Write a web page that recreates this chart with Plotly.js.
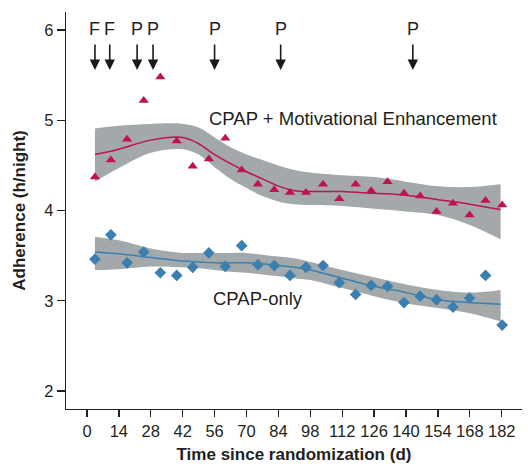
<!DOCTYPE html>
<html>
<head>
<meta charset="utf-8">
<script src="https://cdn.plot.ly/plotly-3.0.1.min.js"></script>
<style>html,body{margin:0;padding:0;background:#fff;}#chart{width:528px;height:468px;}</style>
</head>
<body>
<div id="chart"></div>
<script>
// Observed weekly adherence (days since randomization)
const weekDays = [3.5, 10.5, 17.6, 24.9, 32.2, 39.4, 46.4, 53.5, 60.7, 67.9, 75.0, 82.2, 89.1, 96.1, 103.6, 110.7, 117.9, 124.7, 131.9, 139.1, 146.2, 153.4, 160.6, 167.9, 174.9, 182.2];
const meObserved = [4.37, 4.56, 4.79, 5.22, 5.48, 4.77, 4.49, 4.57, 4.80, 4.45, 4.29, 4.23, 4.20, 4.20, 4.29, 4.13, 4.29, 4.22, 4.32, 4.19, 4.16, 3.99, 4.08, 3.95, 4.11, 4.06];
const onlyObserved = [3.46, 3.73, 3.42, 3.54, 3.31, 3.28, 3.37, 3.53, 3.38, 3.61, 3.40, 3.39, 3.28, 3.37, 3.39, 3.20, 3.07, 3.17, 3.16, 2.98, 3.05, 3.01, 2.93, 3.03, 3.28, 2.73];

// Smoothed fits with confidence bands
const fitDays   = [3.5, 14, 28, 42, 49, 56, 63, 70, 77, 84, 91, 98, 112, 126, 140, 154, 168, 181.5];
const meFit     = [4.62, 4.68, 4.78, 4.81, 4.74, 4.62, 4.52, 4.43, 4.35, 4.27, 4.22, 4.21, 4.21, 4.19, 4.17, 4.12, 4.07, 4.01];
const meUpper   = [4.91, 4.94, 4.96, 4.96, 4.92, 4.81, 4.70, 4.62, 4.56, 4.50, 4.45, 4.42, 4.39, 4.37, 4.32, 4.27, 4.26, 4.29];
const meLower   = [4.32, 4.47, 4.64, 4.68, 4.62, 4.48, 4.35, 4.25, 4.16, 4.10, 4.07, 4.06, 4.05, 4.02, 3.99, 3.95, 3.84, 3.68];
const onlyFit   = [3.54, 3.52, 3.48, 3.44, 3.43, 3.42, 3.42, 3.42, 3.41, 3.39, 3.37, 3.34, 3.25, 3.16, 3.09, 3.01, 2.98, 2.96];
const onlyUpper = [3.71, 3.67, 3.58, 3.53, 3.53, 3.53, 3.53, 3.53, 3.51, 3.49, 3.47, 3.43, 3.34, 3.26, 3.18, 3.12, 3.09, 3.12];
const onlyLower = [3.34, 3.35, 3.38, 3.37, 3.36, 3.34, 3.32, 3.31, 3.29, 3.27, 3.25, 3.23, 3.14, 3.05, 2.97, 2.92, 2.86, 2.77];

// Event markers
const eventDays = [3.5, 10, 22, 29, 56, 85, 143];
const eventLabels = ['F', 'F', 'P', 'P', 'P', 'P', 'P'];

const xTicks = [0, 14, 28, 42, 56, 70, 84, 98, 112, 126, 140, 154, 168, 182];
const yTicks = [2, 3, 4, 5, 6];

const MAG = '#c0124f';
const BLU = '#3a7fb0';
const BAND = '#a3a8aa';
const FONT = 'Liberation Sans, Arial, sans-serif';

const traces = [
  {x: fitDays, y: meLower, mode: 'lines', line: {width: 0, shape: 'spline', color: BAND}, hoverinfo: 'skip', showlegend: false},
  {x: fitDays, y: meUpper, mode: 'lines', line: {width: 0, shape: 'spline', color: BAND}, fill: 'tonexty', fillcolor: BAND, hoverinfo: 'skip', showlegend: false},
  {x: fitDays, y: onlyLower, mode: 'lines', line: {width: 0, shape: 'spline', color: BAND}, hoverinfo: 'skip', showlegend: false},
  {x: fitDays, y: onlyUpper, mode: 'lines', line: {width: 0, shape: 'spline', color: BAND}, fill: 'tonexty', fillcolor: BAND, hoverinfo: 'skip', showlegend: false},
  {x: fitDays, y: meFit, mode: 'lines', line: {width: 1.5, shape: 'spline', color: MAG}, showlegend: false},
  {x: fitDays, y: onlyFit, mode: 'lines', line: {width: 1.5, shape: 'spline', color: BLU}, showlegend: false},
  {x: weekDays, y: meObserved, mode: 'markers', marker: {symbol: 'triangle-up', size: 9, color: MAG}, showlegend: false},
  {x: weekDays, y: onlyObserved, mode: 'markers', marker: {symbol: 'diamond', size: 9, color: BLU}, showlegend: false}
];

const annotations = [];
eventDays.forEach((d, i) => {
  annotations.push({x: d, y: 5.557, xref: 'x', yref: 'y', text: '', showarrow: true,
    ax: 0, ay: -27, arrowhead: 2, arrowsize: 1.3, arrowwidth: 1.6, arrowcolor: '#1a1a1a'});
  annotations.push({x: d, y: 6.01, xref: 'x', yref: 'y', text: eventLabels[i], showarrow: false,
    font: {family: FONT, size: 18, color: '#231f20'}, xanchor: 'center', yanchor: 'middle'});
});
annotations.push({x: 52.5, y: 5.02, xref: 'x', yref: 'y', text: 'CPAP + Motivational Enhancement', showarrow: false,
  xanchor: 'left', yanchor: 'middle', font: {family: FONT, size: 18.5, color: '#231f20'}});
annotations.push({x: 54.5, y: 3.03, xref: 'x', yref: 'y', text: 'CPAP-only', showarrow: false,
  xanchor: 'left', yanchor: 'middle', font: {family: FONT, size: 18.5, color: '#231f20'}});

const layout = {
  width: 528, height: 468,
  margin: {l: 66, r: 6, t: 12, b: 59},
  paper_bgcolor: '#fff', plot_bgcolor: '#fff',
  showlegend: false,
  font: {family: FONT, color: '#231f20'},
  xaxis: {
    range: [-9.2, 190.9], tickvals: xTicks, ticktext: xTicks.map(String),
    showgrid: false, zeroline: false, showline: true, linecolor: '#231f20', linewidth: 1.3,
    ticks: 'outside', ticklen: 7, tickwidth: 1.3, tickcolor: '#231f20',
    tickfont: {family: FONT, size: 16.5, color: '#231f20'},
    title: {text: 'Time since randomization (d)', font: {family: FONT, size: 17, color: '#231f20', weight: 'bold'}, standoff: 9}
  },
  yaxis: {
    range: [1.8, 6.2], tickvals: yTicks, ticktext: yTicks.map(String),
    showgrid: false, zeroline: false, showline: true, linecolor: '#231f20', linewidth: 1.3,
    ticks: 'outside', ticklen: 8, tickwidth: 1.3, tickcolor: '#231f20',
    tickfont: {family: FONT, size: 16.5, color: '#231f20'},
    title: {text: 'Adherence (h/night)', font: {family: FONT, size: 17, color: '#231f20', weight: 'bold'}, standoff: 14}
  },
  annotations: annotations
};

Plotly.newPlot('chart', traces, layout, {displayModeBar: false, staticPlot: true});
</script>
</body>
</html>
